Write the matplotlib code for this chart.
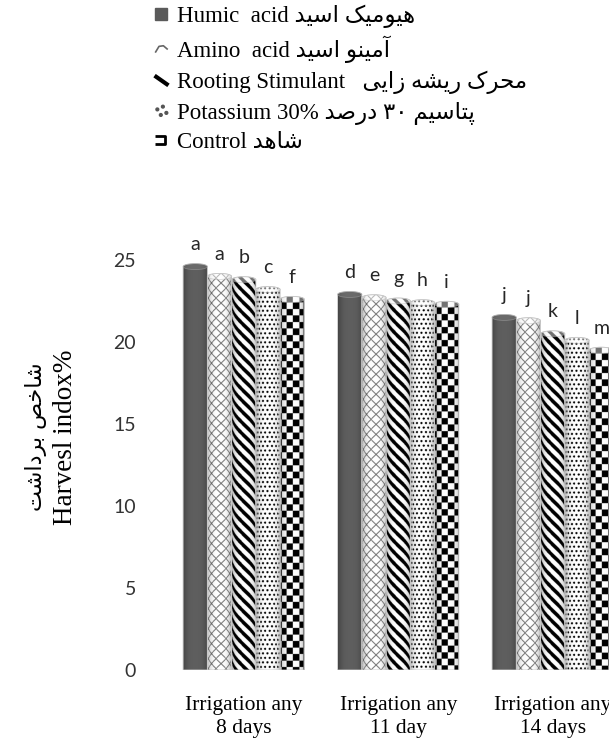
import numpy as np
import matplotlib
matplotlib.use("Agg")
import matplotlib.pyplot as plt
from matplotlib.path import Path
from matplotlib.patches import PathPatch, Ellipse
from matplotlib.lines import Line2D
from matplotlib.font_manager import FontProperties

# ---------------------------------------------------------------- données
groupes = ["Irrigation any\n8 days", "Irrigation any\n11 day", "Irrigation any\n14 days"]
traitements_en = ["Humic  acid", "Amino  acid", "Rooting Stimulant  ", "Potassium 30%", "Control"]
traitements_fa = ["هیومیک اسید", "آمینو اسید", "محرک ریشه زایی", "پتاسیم ۳۰ درصد", "شاهد"]

humic = [24.6, 22.9, 21.5]
amino = [24.0, 22.7, 21.3]
rooting = [23.8, 22.5, 20.5]
potassium = [23.2, 22.4, 20.1]
control = [22.6, 22.3, 19.5]

lettres_humic = ["a", "d", "j"]
lettres_amino = ["a", "e", "j"]
lettres_rooting = ["b", "g", "k"]
lettres_potassium = ["c", "h", "l"]
lettres_control = ["f", "i", "m"]

series = [humic, amino, rooting, potassium, control]
lettres = [lettres_humic, lettres_amino, lettres_rooting, lettres_potassium, lettres_control]
motifs = ["plein", "treillis", "rayures", "points", "damier"]

ylabel_fa = "شاخص برداشت"
ylabel_en = "Harvesl indox%"

# ------------------------------------------------ mise en forme du persan
# formes (isolée, finale, initiale, médiane) ; None = lettre qui ne se lie pas à gauche
FORMES = {
    'ا': ('\uFE8D', '\uFE8E', None, None),
    'آ': ('\uFE81', '\uFE82', None, None),
    'ب': ('\uFE8F', '\uFE90', '\uFE91', '\uFE92'),
    'پ': ('\uFB56', '\uFB57', '\uFB58', '\uFB59'),
    'ت': ('\uFE95', '\uFE96', '\uFE97', '\uFE98'),
    'ح': ('\uFEA1', '\uFEA2', '\uFEA3', '\uFEA4'),
    'خ': ('\uFEA5', '\uFEA6', '\uFEA7', '\uFEA8'),
    'د': ('\uFEA9', '\uFEAA', None, None),
    'ر': ('\uFEAD', '\uFEAE', None, None),
    'ز': ('\uFEAF', '\uFEB0', None, None),
    'س': ('\uFEB1', '\uFEB2', '\uFEB3', '\uFEB4'),
    'ش': ('\uFEB5', '\uFEB6', '\uFEB7', '\uFEB8'),
    'ص': ('\uFEB9', '\uFEBA', '\uFEBB', '\uFEBC'),
    'ک': ('\uFB8E', '\uFB8F', '\uFB90', '\uFB91'),
    'م': ('\uFEE1', '\uFEE2', '\uFEE3', '\uFEE4'),
    'ن': ('\uFEE5', '\uFEE6', '\uFEE7', '\uFEE8'),
    'ه': ('\uFEE9', '\uFEEA', '\uFEEB', '\uFEEC'),
    'و': ('\uFEED', '\uFEEE', None, None),
    'ی': ('\uFBFC', '\uFBFD', '\uFBFE', '\uFBFF'),
}


def forme_mot(mot):
    out = []
    for i, ch in enumerate(mot):
        if ch not in FORMES:
            out.append(ch)
            continue
        prec = mot[i - 1] if i > 0 else None
        suiv = mot[i + 1] if i + 1 < len(mot) else None
        lie_prec = prec in FORMES and FORMES[prec][2] is not None
        lie_suiv = suiv in FORMES and FORMES[ch][2] is not None
        iso, fin, ini, med = FORMES[ch]
        if lie_prec and lie_suiv:
            out.append(med)
        elif lie_prec:
            out.append(fin)
        elif lie_suiv:
            out.append(ini)
        else:
            out.append(iso)
    return ''.join(out)


def fa(texte):
    mots = texte.split(' ')[::-1]
    vis = []
    for m in mots:
        if m and m[0] in '۰۱۲۳۴۵۶۷۸۹':
            vis.append(m)
        else:
            vis.append(forme_mot(m)[::-1])
    return ' '.join(vis)


# ------------------------------------------------------- textures des barres
def texture(motif, wpx, hpx, k=3):
    W, H = int(wpx * k), int(hpx * k)
    t = (np.arange(W) + 0.5) / W
    # coordonnée le long de la circonférence (effet cylindre)
    u = (np.arcsin(np.clip(2 * t - 1, -1, 1)) + np.pi / 2) * wpx / 2
    v = (np.arange(H) + 0.5) / k
    U, V = np.meshgrid(u, v)
    if motif == "plein":
        img = np.full(U.shape, 0.37)
    elif motif == "treillis":
        p, lw = 10.0, 1.3
        d1 = np.mod(U + V, p)
        d2 = np.mod(U - V, p)
        img = np.where((d1 < lw) | (d2 < lw), 0.42, 1.0)
    elif motif == "rayures":
        img = np.where(np.mod(U - V, 11.0) < 5.0, 0.0, 1.0)
    elif motif == "points":
        p = 4.5
        row = np.floor(V / p)
        uu = U + (row % 2) * p / 2
        du = np.mod(uu, p) - p / 2
        dv = np.mod(V, p) - p / 2
        img = np.where(du ** 2 + dv ** 2 < 1.1 ** 2, 0.0, 1.0)
    else:  # damier
        c = 6.5
        img = np.where((np.floor(U / c) + np.floor(V / c)) % 2 == 0, 0.0, 1.0)
    # ombrage du cylindre
    ombre = 1 - 0.30 * np.abs(2 * t - 1) ** 3
    img = img * ombre[None, :]
    return np.dstack([img, img, img])


# ------------------------------------------------------------------ figure
fig = plt.figure(figsize=(6.09, 7.40), dpi=100)
ax = fig.add_axes([0.2734, 0.0946, 0.761, 0.554])
ax.set_xlim(-0.5, 2.5)
ax.set_ylim(0, 25)

x = np.arange(len(groupes))
bw = 0.157
px_x = ax.get_position().width * 609 / 3.0
px_y = ax.get_position().height * 740 / 25.0
cap = 3.0 / px_y  # demi-hauteur de l'ellipse du sommet

for i, (vals, lets, motif) in enumerate(zip(series, lettres, motifs)):
    bars = ax.bar(x + (i - 2) * bw, vals, width=bw, color='none', edgecolor='none')
    for b, lab in zip(bars, lets):
        x0, w, h = b.get_x(), b.get_width(), b.get_height()
        cx, r = x0 + w / 2, w / 2
        ang = np.linspace(0, np.pi, 30)
        verts = [(x0, 0), (x0 + w, 0)]
        verts += [(cx + r * np.cos(a), h + cap * np.sin(a)) for a in ang]
        verts += [(x0, 0)]
        contour = Path(verts, closed=True)
        pp = PathPatch(contour, facecolor='none', edgecolor='#c8c8c8', lw=0.6, zorder=3)
        ax.add_patch(pp)
        tex = texture(motif, w * px_x, (h + cap) * px_y)
        im = ax.imshow(tex, extent=(x0, x0 + w, 0, h + cap), aspect='auto',
                       interpolation='antialiased', zorder=2)
        im.set_clip_path(pp)
        # face supérieure du cylindre
        face = '#7a7a7a' if motif == "plein" else 'white'
        ax.add_patch(Ellipse((cx, h), w, 2 * cap, facecolor=face, alpha=0.45,
                             edgecolor='#b0b0b0', lw=0.6, zorder=3))
        ax.annotate(lab, (cx, h), xytext=(0, 12), textcoords='offset points',
                    ha='center', va='baseline', fontsize=14, family='Lato',
                    color='#262626')

ax.set_xlim(-0.5, 2.5)
ax.set_ylim(0, 25)
for s in ax.spines.values():
    s.set_visible(False)
ax.set_yticks([0, 5, 10, 15, 20, 25])
ax.set_xticks(x)
ax.set_xticklabels(groupes, family='Liberation Serif', fontsize=15.5, linespacing=1.28)
ax.tick_params(axis='y', length=0, pad=22, labelsize=14, labelcolor='#333333')
ax.tick_params(axis='x', length=0, pad=19)
for t in ax.get_yticklabels():
    t.set_family('Lato')

# titre de l'axe y (persan + anglais)
fig.text(36 / 609, 1 - 437 / 740, fa(ylabel_fa), rotation=90, ha='center', va='center',
         family='DejaVu Sans', fontsize=16)
fig.text(66 / 609, 1 - 437 / 740, ylabel_en, rotation=90, ha='center', va='center',
         family='Liberation Serif', fontsize=19.5)

# légende
M, L = Path.MOVETO, Path.LINETO
m_caret = Path([(-1, -0.5), (-0.4, 0.5), (0.3, 0.6), (1, 0.0)], [M, L, L, L])
m_trait = Path([(-1, 0.7), (1, -0.7)], [M, L])
m_points = Path.make_compound_path(*[Path.circle(c, 0.2) for c in
                                     [(-0.6, 0.3), (0.2, 0.7), (0.7, -0.2), (-0.1, -0.5)]])
m_crochet = Path([(-1, 0.8), (0.8, 0.8), (0.8, -0.8), (-1, -0.8)], [M, L, L, L])

poignees = [
    Line2D([], [], ls='none', marker='s', ms=8, color='#5a5a5a'),
    Line2D([], [], ls='none', marker=m_caret, ms=9, mfc='none', mec='#666666', mew=1.2),
    Line2D([], [], ls='none', marker=m_trait, ms=10, mec='black', mew=3),
    Line2D([], [], ls='none', marker=m_points, ms=9, color='#555555'),
    Line2D([], [], ls='none', marker=m_crochet, ms=8, mfc='none', mec='black', mew=2),
]
etiquettes = [en + ' ' + fa(f) for en, f in zip(traitements_en, traitements_fa)]
prop = FontProperties(family=['Liberation Serif', 'DejaVu Sans'], size=16.5)
fig.legend(poignees, etiquettes, loc='upper left', bbox_to_anchor=(152 / 609, 1 - 5 / 740),
           frameon=False, prop=prop, handletextpad=0.3, labelspacing=0.33,
           handlelength=0.8, borderaxespad=0, borderpad=0)

fig.savefig("out.png", dpi=100)
